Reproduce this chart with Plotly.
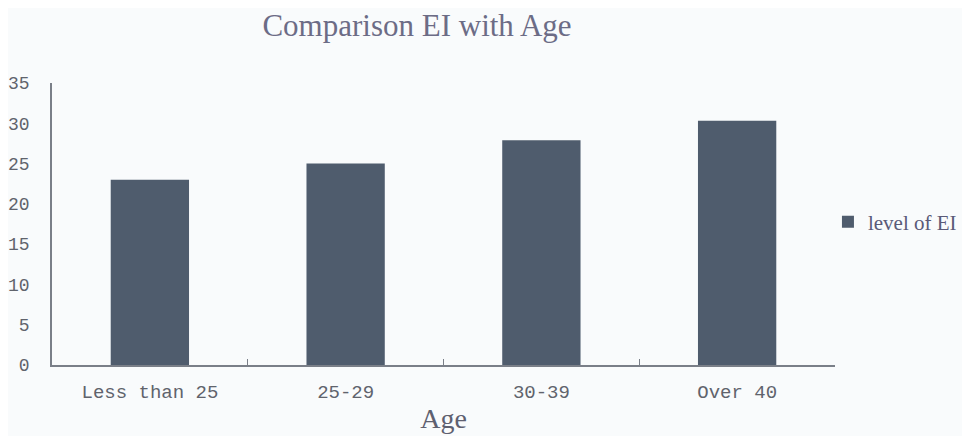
import plotly.graph_objects as go

categories = ["Less than 25", "25-29", "30-39", "Over 40"]
values = [23.0, 25.0, 27.9, 30.3]
series_name = "level of EI"
y_ticks = [0, 5, 10, 15, 20, 25, 30, 35]

bar_color = "#4f5c6d"
axis_color = "#7a7f88"

# page body has an 8px margin, so the figure is drawn 8px smaller and offset
W, H = 962, 428
L, R, T, B = 44, 135, 75, 71

fig = go.Figure()
fig.add_trace(go.Bar(
    x=categories, y=values, name=series_name,
    marker=dict(color=bar_color, line=dict(width=0)),
    showlegend=True,
))

fig.update_layout(
    width=W, height=H,
    margin=dict(l=L, r=R, t=T, b=B, autoexpand=False),
    paper_bgcolor="#f9fbfc", plot_bgcolor="#f9fbfc",
    bargap=0.6,
    title=dict(text="Comparison EI with Age", x=409/W, xanchor="center",
               y=1 - 17/H, yanchor="middle",
               font=dict(family="Liberation Serif", size=31, color="#6c6c86")),
    legend=dict(x=0.991, xanchor="left", y=0.507, yanchor="middle",
                font=dict(family="Liberation Serif", size=21, color="#5a5a78"),
                bgcolor="rgba(0,0,0,0)"),
    xaxis=dict(
        showline=True, linecolor=axis_color, linewidth=1.5,
        ticks="inside", tickson="boundaries", ticklen=6, tickcolor=axis_color,
        tickfont=dict(family="Liberation Mono", size=19, color="#60636c"),
        ticklabelstandoff=8, automargin=False,
        title=dict(text="Age", font=dict(family="Liberation Serif", size=28, color="#5e6070"),
                   standoff=6),
        showgrid=False, zeroline=False,
    ),
    yaxis=dict(
        range=[0, 35], tickvals=y_ticks, showline=True, linecolor=axis_color, linewidth=1.5,
        ticks="", showgrid=False, zeroline=False, automargin=False,
        tickfont=dict(family="Liberation Mono", size=18, color="#60636c"),
        ticklabelstandoff=17,
    ),
)

fig.write_html("out.html")
